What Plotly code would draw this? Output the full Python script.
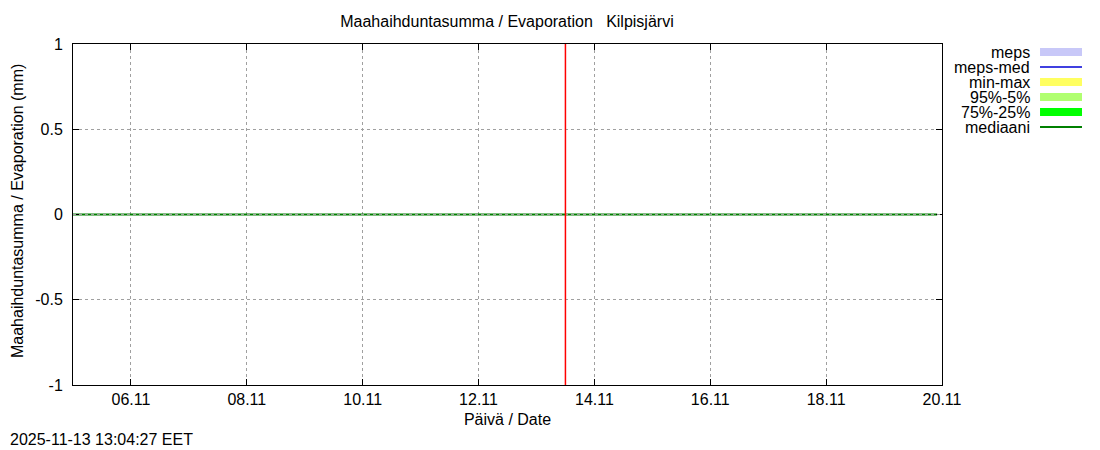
import plotly.graph_objects as go

# median evaporation sum (mm), all zero for this period
median_dates = ["2025-11-05 00:00", "2025-11-06 00:00", "2025-11-07 00:00", "2025-11-08 00:00",
                "2025-11-09 00:00", "2025-11-10 00:00", "2025-11-11 00:00", "2025-11-12 00:00",
                "2025-11-13 00:00", "2025-11-14 00:00", "2025-11-15 00:00", "2025-11-16 00:00",
                "2025-11-17 00:00", "2025-11-18 00:00", "2025-11-19 00:00", "2025-11-19 22:00"]
median_values = [0, 0, 0, 0, 0, 0, 0, 0, 0, 0, 0, 0, 0, 0, 0, 0]

forecast_time = "2025-11-13 12:00"

x_ticks = ["2025-11-06", "2025-11-08", "2025-11-10", "2025-11-12",
           "2025-11-14", "2025-11-16", "2025-11-18", "2025-11-20"]
x_labels = ["06.11", "08.11", "10.11", "12.11", "14.11", "16.11", "18.11", "20.11"]
y_ticks = [-1, -0.5, 0, 0.5, 1]
y_labels = ["-1", "-0.5", "0", "0.5", "1"]

legend_names = ["meps", "meps-med", "min-max", "95%-5%", "75%-25%", "mediaani"]
legend_colors = ["#c8c8f8", "#4040e0", "#ffff60", "#b0ff70", "#00ff00", "#008000"]
legend_widths = [8, 2, 8, 8, 8, 2]

font = "Liberation Sans, Arial, sans-serif"

fig = go.Figure()
fig.add_trace(go.Scatter(x=median_dates, y=median_values, mode="lines",
                         line=dict(color="#008000", width=2), showlegend=False))

# gnuplot draws the grid in front, so the zero grid line shows over the median
fig.add_hline(y=0, line=dict(color="#a0a0a0", width=1, dash="dot"), layer="above")
# time of the forecast run
fig.add_vline(x=forecast_time, line=dict(color="#ff0000", width=1.5), layer="above")

# gnuplot style legend: text right aligned, sample to the right
for i, (name, col, w) in enumerate(zip(legend_names, legend_colors, legend_widths)):
    yp = 0.9765 - i * 0.044
    fig.add_annotation(x=1.1036, y=yp, xref="paper", yref="paper", text=name,
                       showarrow=False, xanchor="right", yanchor="middle",
                       font=dict(size=16, color="black", family=font))
    fig.add_shape(type="line", xref="paper", yref="paper", x0=1.1128, x1=1.1611,
                  y0=yp, y1=yp, line=dict(color=col, width=w))

# y axis title as an annotation so it sits where gnuplot puts it
fig.add_annotation(x=-0.0645, y=0.51, xref="paper", yref="paper",
                   text="Maahaihduntasumma / Evaporation (mm)", textangle=-90,
                   showarrow=False, xanchor="center", yanchor="middle",
                   font=dict(size=16, color="black", family=font))

fig.add_annotation(x=-0.0748, y=-0.161, xref="paper", yref="paper",
                   text="2025-11-13 13:04:27 EET",
                   showarrow=False, xanchor="left", yanchor="middle",
                   font=dict(size=16, color="black", family=font))

fig.update_layout(
    width=1100, height=450,
    margin=dict(l=65, r=166, t=36, b=73),
    paper_bgcolor="white", plot_bgcolor="white",
    font=dict(family=font, size=16, color="black"),
    title=dict(text="Maahaihduntasumma / Evaporation   Kilpisjärvi", x=0.4536, xanchor="center",
               y=0.971, yanchor="middle", font=dict(size=16)),
    showlegend=False,
)
fig.update_xaxes(range=["2025-11-05", "2025-11-20"], tickvals=x_ticks, ticktext=x_labels,
                 ticks="inside", ticklen=6, tickcolor="black", showline=True, linecolor="black",
                 linewidth=1, mirror="ticks", showgrid=True, gridcolor="#a0a0a0", griddash="dot",
                 gridwidth=1, zeroline=False, automargin=False,
                 title=dict(text="Päivä / Date", standoff=6, font=dict(size=16)))
fig.update_yaxes(range=[-1, 1], tickvals=y_ticks, ticktext=y_labels,
                 ticks="inside", ticklen=6, tickcolor="black", showline=True, linecolor="black",
                 linewidth=1, mirror="ticks", showgrid=True, gridcolor="#a0a0a0", griddash="dot",
                 gridwidth=1, zeroline=False, automargin=False, ticklabelstandoff=6)

fig.write_html("out.html")
